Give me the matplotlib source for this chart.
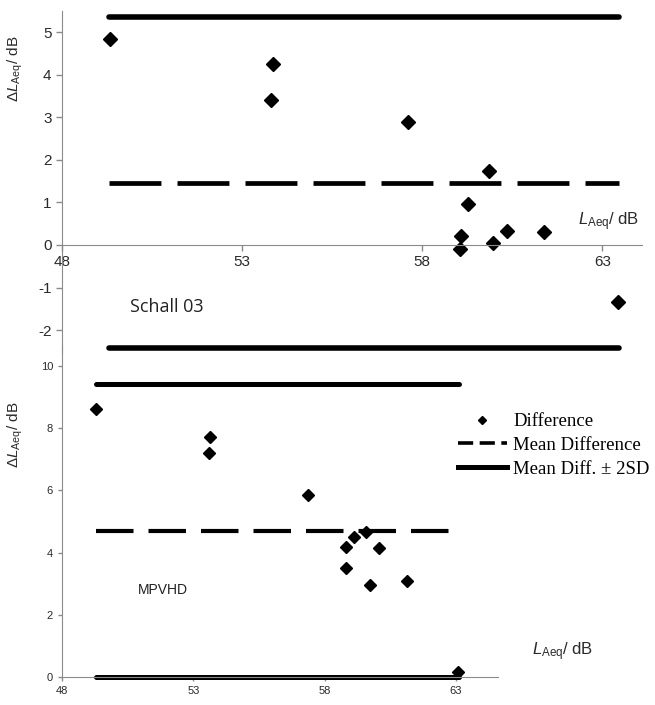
import matplotlib
matplotlib.use("Agg")
import matplotlib.pyplot as plt
from matplotlib.lines import Line2D

plt.rcParams['font.family'] = ['Liberation Sans', 'DejaVu Sans']
plt.rcParams['mathtext.fontset'] = 'custom'
plt.rcParams['mathtext.rm'] = 'Liberation Sans'
plt.rcParams['mathtext.it'] = 'Liberation Sans:italic'
plt.rcParams['axes.unicode_minus'] = False

# Schall 03 (top panel)
top_x = [49.33, 53.86, 53.80, 57.60, 59.86, 59.28, 59.08, 59.06, 59.97, 60.36, 61.39, 63.44]
top_y = [4.84, 4.25, 3.40, 2.89, 1.74, 0.96, 0.21, -0.09, 0.05, 0.33, 0.31, -1.34]
top_mean = 1.46
top_upper = 5.35
top_lower = -2.42
top_span = [49.3, 63.45]

# MPVHD (bottom panel)
bot_x = [49.30, 53.65, 53.60, 57.35, 59.57, 59.10, 58.80, 60.06, 58.80, 59.72, 61.13, 63.08]
bot_y = [8.62, 7.72, 7.20, 5.85, 4.66, 4.50, 4.18, 4.15, 3.50, 2.96, 3.09, 0.16]
bot_mean = 4.69
bot_upper = 9.42
bot_lower = 0.0
bot_span = [49.3, 63.1]

x_ticks = [48, 53, 58, 63]
top_yticks = [-2, -1, 0, 1, 2, 3, 4, 5]
bot_yticks = [0, 2, 4, 6, 8, 10]

W, H = 655, 705
fig = plt.figure(figsize=(W / 100, H / 100), dpi=100)

ax1 = fig.add_axes([62 / W, 1 - 351.5 / H, (642 - 62) / W, (351.5 - 10.7) / H])
ax2 = fig.add_axes([62 / W, 1 - 677 / H, (498 - 62) / W, (677 - 345) / H])

spine_col = '#8a8a8a'
tick_col = '#2a2a2a'
for ax in (ax1, ax2):
    ax.patch.set_alpha(0)
    ax.spines['top'].set_visible(False)
    ax.spines['right'].set_visible(False)
    ax.spines['left'].set_color(spine_col)
    ax.spines['bottom'].set_color(spine_col)
    ax.tick_params(colors=spine_col, labelcolor=tick_col, length=4, width=1)

# top panel
ax1.set_xlim(48, 64.1)
ax1.set_ylim(-2.5, 5.5)
ax1.spines['bottom'].set_position(('data', 0))
ax1.set_xticks(x_ticks)
ax1.set_yticks(top_yticks)
ax1.tick_params(labelsize=11)
ax1.plot(top_span, [top_upper] * 2, color='k', lw=4, solid_capstyle='round')
ax1.plot(top_span, [top_lower] * 2, color='k', lw=4, solid_capstyle='round')
ax1.plot(top_span, [top_mean] * 2, color='k', lw=3.4, dashes=(11, 3.4))
ax1.plot(top_x, top_y, 'D', color='k', ms=7.4, clip_on=False)
ax1.set_ylabel(r'$\Delta L_{\rm Aeq}$/ dB', fontsize=11, color=tick_col)
ax1.yaxis.set_label_coords(-0.064, 0.83)
fig.text(609 / W, 1 - 222 / H, r'$L_{\rm Aeq}$/ dB', fontsize=12, color=tick_col,
         ha='center', va='center')
fig.text(167 / W, 1 - 307 / H, 'Schall 03', fontsize=13, color='#222222',
         ha='center', va='center', family=['Open Sans', 'DejaVu Sans'])

# bottom panel
ax2.set_xlim(48, 64.6)
ax2.set_ylim(0, 10.67)
ax2.set_xticks(x_ticks)
ax2.set_yticks(bot_yticks)
ax2.tick_params(labelsize=8, length=3)
ax2.plot(bot_span, [bot_upper] * 2, color='k', lw=3.6, solid_capstyle='round')
ax2.plot(bot_span, [bot_lower] * 2, color='k', lw=3.6, solid_capstyle='round', clip_on=False)
ax2.plot(bot_span, [bot_mean] * 2, color='k', lw=3.0, dashes=(9, 3.6))
ax2.plot(bot_x, bot_y, 'D', color='k', ms=6.4, clip_on=False)
ax2.set_ylabel(r'$\Delta L_{\rm Aeq}$/ dB', fontsize=11, color=tick_col)
ax2.yaxis.set_label_coords(-0.085, 0.73)
fig.text(563 / W, 1 - 652 / H, r'$L_{\rm Aeq}$/ dB', fontsize=12, color=tick_col,
         ha='center', va='center')
fig.text(163 / W, 1 - 590 / H, 'MPVHD', fontsize=10, color='#222222',
         ha='center', va='center')

handles = [
    Line2D([], [], marker='D', ls='none', color='k', ms=4.5),
    Line2D([], [], color='k', lw=2.6, dashes=(4.2, 1.8)),
    Line2D([], [], color='k', lw=3.6),
]
labels = ['Difference', 'Mean Difference', 'Mean Diff. \u00b1 2SD']
fig.legend(handles, labels, loc='upper left', bbox_to_anchor=(458 / W, 1 - 413 / H),
           frameon=False, handlelength=2.6, handletextpad=0.35, labelspacing=0.36,
           borderaxespad=0, borderpad=0,
           prop={'family': 'Liberation Serif', 'size': 13.5})

fig.savefig('out.png', dpi=100)
